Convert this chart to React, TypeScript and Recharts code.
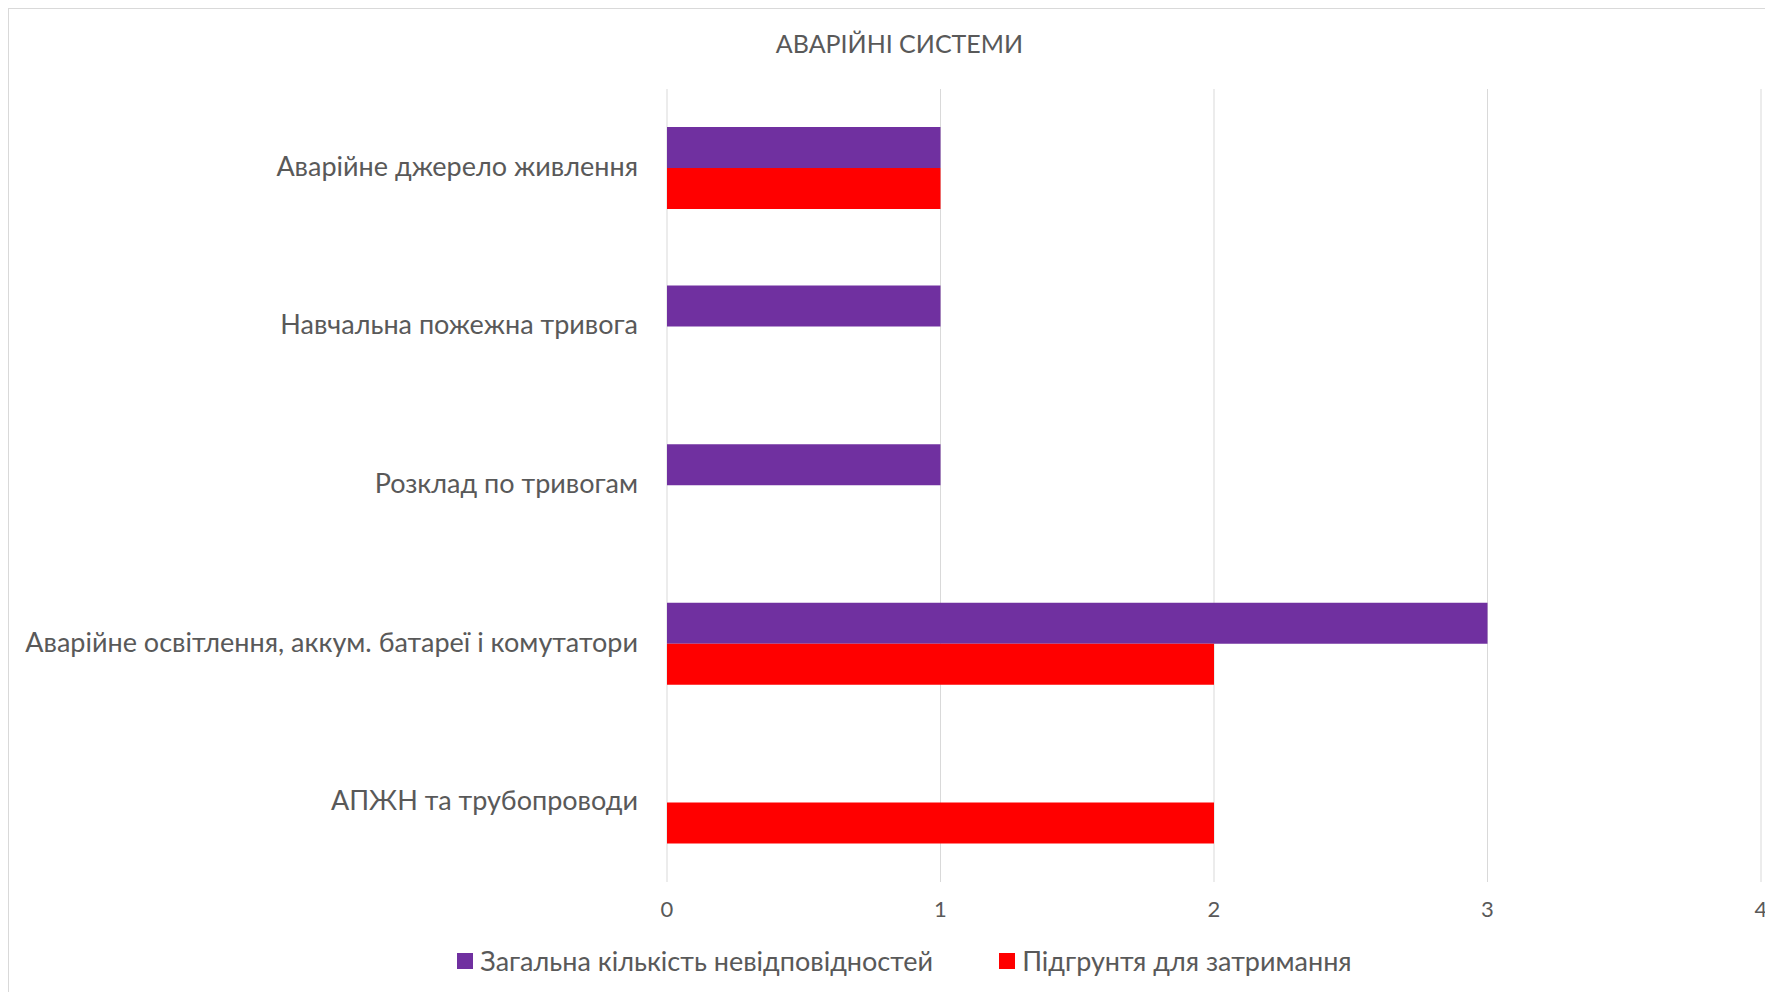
import { Bar, BarChart, CartesianGrid, XAxis, YAxis } from 'recharts';

const categories = [
  'Аварійне джерело живлення',
  'Навчальна пожежна тривога',
  'Розклад по тривогам',
  'Аварійне освітлення, аккум. батареї і комутатори',
  'АПЖН та трубопроводи',
];
const totalNonconformities = [1, 1, 1, 3, 0];
const detentionGrounds = [1, 0, 0, 2, 2];
const xTicks = [0, 1, 2, 3, 4];

const seriesNames = ['Загальна кількість невідповідностей', 'Підгрунтя для затримання'];
const seriesColors = ['#7030A0', '#FF0000'];

const data = categories.map((name, i) => ({
  name,
  total: totalNonconformities[i],
  grounds: detentionGrounds[i],
}));

const font = 'Lato, "Open Sans", sans-serif';

export default function App() {
  return (
    <div
      style={{
        position: 'relative',
        width: 1763,
        height: 990,
        border: '1px solid #d9d9d9',
        background: '#fff',
        fontFamily: font,
        color: '#595959',
      }}
    >
      <div style={{ position: 'absolute', top: 19, left: 9, width: 1763, textAlign: 'center', fontSize: 25 }}>
        АВАРІЙНІ СИСТЕМИ
      </div>
      <BarChart
        width={1763}
        height={983}
        data={data}
        layout="vertical"
        margin={{ top: 80, right: 11, bottom: 80, left: 0 }}
        barGap={0}
      >
        <CartesianGrid horizontal={false} stroke="#d9d9d9" />
        <XAxis
          type="number"
          domain={[0, 4]}
          ticks={xTicks}
          axisLine={false}
          tickLine={false}
          tickMargin={13}
          height={30}
          tick={{ fill: '#595959', fontSize: 22, fontFamily: font }}
        />
        <YAxis
          type="category"
          dataKey="name"
          width={658}
          axisLine={false}
          tickLine={false}
          tickMargin={23}
          tick={{ fill: '#595959', fontSize: 27, fontFamily: font, dy: -2 }}
        />
        <Bar dataKey="total" name={seriesNames[0]} fill={seriesColors[0]} barSize={41} isAnimationActive={false} />
        <Bar dataKey="grounds" name={seriesNames[1]} fill={seriesColors[1]} barSize={41} isAnimationActive={false} />
      </BarChart>
      <div
        style={{
          position: 'absolute',
          top: 935,
          left: 14,
          width: 1763,
          display: 'flex',
          justifyContent: 'center',
          gap: 66,
          fontSize: 27,
        }}
      >
        {seriesNames.map((n, i) => (
          <div key={n} style={{ display: 'flex', alignItems: 'center', gap: 7 }}>
            <span style={{ width: 16, height: 16, background: seriesColors[i], display: 'inline-block' }} />
            <span>{n}</span>
          </div>
        ))}
      </div>
    </div>
  );
}
